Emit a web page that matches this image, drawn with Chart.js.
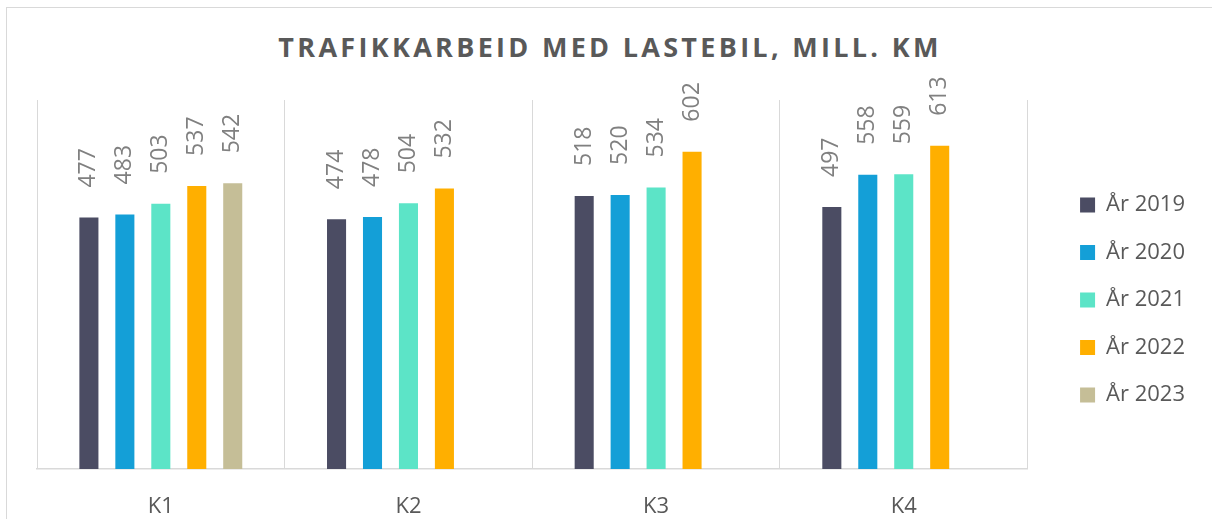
<!DOCTYPE html>
<html>
<head>
<meta charset="utf-8">
<script src="https://cdn.jsdelivr.net/npm/chart.js@4.4.0/dist/chart.umd.min.js"></script>
<style>
  html, body { margin: 0; padding: 0; background: #fff; overflow: hidden; }
  #frame { position: absolute; left: 6px; top: 7px; width: 1300px; height: 600px; border: 1px solid #d9d9d9; }
  #title {
    position: absolute; left: 0; top: 28px; width: 1220px; text-align: center;
    font-family: "Open Sans", sans-serif; font-weight: bold; font-size: 27px;
    letter-spacing: 3.3px; color: #595959;
  }
  #wrap { position: absolute; left: 0; top: 0; width: 1212px; height: 519px; }
</style>
</head>
<body>
<div id="frame"></div>
<div id="title">TRAFIKKARBEID MED LASTEBIL, MILL. KM</div>
<div id="wrap"><canvas id="chart"></canvas></div>
<script>
// data
const kvartaler = ['K1', 'K2', 'K3', 'K4'];
const ar2019 = [477, 474, 518, 497];
const ar2020 = [483, 478, 520, 558];
const ar2021 = [503, 504, 534, 559];
const ar2022 = [537, 532, 602, 613];
const ar2023 = [542, null, null, null];

const fontName = '"Open Sans", sans-serif';

// tall verdier over stolpene, rotert 90 grader
const verdiEtiketter = {
  id: 'verdiEtiketter',
  afterDatasetsDraw(chart) {
    const ctx = chart.ctx;
    ctx.save();
    ctx.font = '23px ' + fontName;
    ctx.fillStyle = '#808080';
    ctx.textAlign = 'left';
    ctx.textBaseline = 'middle';
    chart.data.datasets.forEach((ds, i) => {
      chart.getDatasetMeta(i).data.forEach((bar, j) => {
        const v = ds.data[j];
        if (v === null || v === undefined) return;
        ctx.save();
        ctx.translate(bar.x, bar.y - 30);
        ctx.rotate(-Math.PI / 2);
        ctx.fillText(String(v), 0, 0);
        ctx.restore();
      });
    });
    ctx.restore();
  }
};

// tomme akser som bare holder av plass
const tomAkse = (w, h) => ({
  type: 'linear', display: true,
  grid: { display: false }, border: { display: false },
  ticks: { display: false },
  afterFit: (s) => { if (w !== null) s.width = w; if (h !== null) s.height = h; }
});

new Chart(document.getElementById('chart'), {
  type: 'bar',
  data: {
    labels: kvartaler,
    datasets: [
      { label: 'År 2019', data: ar2019, backgroundColor: '#4b4c63' },
      { label: 'År 2020', data: ar2020, backgroundColor: '#149fd7' },
      { label: 'År 2021', data: ar2021, backgroundColor: '#5ce4c7' },
      { label: 'År 2022', data: ar2022, backgroundColor: '#ffaf00' },
      { label: 'År 2023', data: ar2023, backgroundColor: '#c5be97' }
    ]
  },
  options: {
    responsive: true,
    maintainAspectRatio: false,
    animation: false,
    categoryPercentage: 0.726,
    barPercentage: 0.53,
    layout: { padding: { top: 81, left: 37, right: 17, bottom: 0 } },
    plugins: {
      legend: {
        position: 'right',
        labels: {
          boxWidth: 15, boxHeight: 15, padding: 25.5,
          color: '#595959',
          font: { family: fontName, size: 22 }
        }
      },
      tooltip: { enabled: false }
    },
    scales: {
      x: {
        grid: { color: '#d9d9d9', lineWidth: 1, drawTicks: false },
        border: { color: '#d9d9d9', width: 1.5 },
        ticks: { color: '#595959', padding: 25, font: { family: fontName, size: 22 } },
        afterFit: (s) => { s.height = 50; }
      },
      y: { display: false, min: 0, max: 700 },
      gapRight: Object.assign(tomAkse(27, null), { position: 'right', axis: 'y' }),
      gapTop: Object.assign(tomAkse(null, 19), { position: 'top', axis: 'x' })
    }
  },
  plugins: [verdiEtiketter]
});
</script>
</body>
</html>
